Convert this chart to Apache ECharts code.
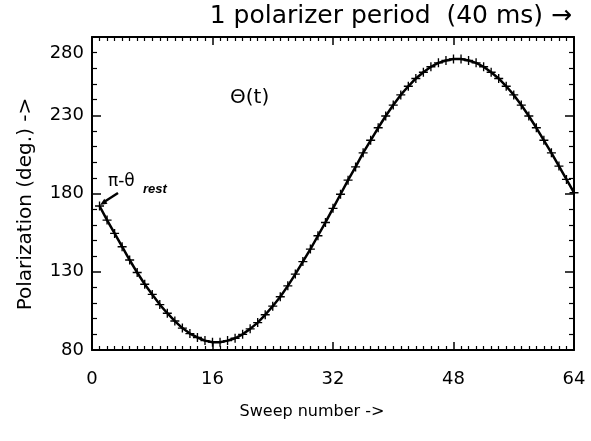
<!DOCTYPE html>
<html>
<head>
<meta charset="UTF-8">
<title>Polarization vs sweep number</title>
<style>
  html, body { margin: 0; padding: 0; background: #fff; }
  #chart { width: 591px; height: 441px; }
</style>
<script src="https://cdn.jsdelivr.net/npm/echarts@6/dist/echarts.min.js"></script>
</head>
<body>
<div id="chart"></div>
<script>
// sweep numbers (x) and polarization angle in degrees (y)
var sweeps = [1, 2, 3, 4, 5, 6, 7, 8, 9, 10, 11, 12, 13, 14, 15, 16,
  17, 18, 19, 20, 21, 22, 23, 24, 25, 26, 27, 28, 29, 30, 31, 32,
  33, 34, 35, 36, 37, 38, 39, 40, 41, 42, 43, 44, 45, 46, 47, 48,
  49, 50, 51, 52, 53, 54, 55, 56, 57, 58, 59, 60, 61, 62, 63, 64];
var polarization = [172, 163, 154.5, 146, 137.5, 129.5, 122, 115.5, 109, 103.5, 98.5, 94, 90.5, 88, 86, 85,
  85, 86, 87.5, 90, 93.5, 97.5, 102.5, 108, 114, 121, 128.5, 136.5, 144.5, 153, 161.5, 170.5,
  179.5, 188.5, 197, 206, 214, 222, 229.5, 236.5, 243, 248.5, 253.5, 257.5, 261, 263.5, 265, 266,
  266, 265, 263.5, 261, 257.5, 253.5, 248.5, 243, 236.5, 229.5, 222, 214, 206, 197.5, 189, 180.5];
var xTicks = [0, 16, 32, 48, 64];
var yTicks = [80, 130, 180, 230, 280];

var yBase = yTicks[0];   // axis runs 0..200 internally, labels shifted by the base
var points = sweeps.map(function (s, i) { return [s, polarization[i] - yBase]; });

var chart = echarts.init(document.getElementById('chart'));
var FONT = 'DejaVu Sans';
var plus = 'path://M-1,-0.15H1V0.15H-1Z M-0.15,-1H0.15V1H-0.15Z';

function xAxisOpt(pos, showLabel) {
  return {
    type: 'value', position: pos,
    min: xTicks[0], max: xTicks[xTicks.length - 1], interval: 16,
    axisLine: { show: true, onZero: false, lineStyle: { color: '#000', width: 2 } },
    axisTick: { show: true, inside: true, length: 8, lineStyle: { color: '#000', width: 1.5 } },
    minorTick: { show: true, splitNumber: 16, length: 4, lineStyle: { color: '#000', width: 1.2 } },
    splitLine: { show: false },
    axisLabel: { show: showLabel, margin: 20, color: '#000', fontFamily: FONT, fontSize: 18 }
  };
}
function yAxisOpt(pos, showLabel) {
  return {
    type: 'value', position: pos,
    min: 0, max: yTicks[yTicks.length - 1] - yBase, interval: 50,
    axisLine: { show: true, onZero: false, lineStyle: { color: '#000', width: 2 } },
    axisTick: { show: true, inside: true, length: 9, lineStyle: { color: '#000', width: 1.5 } },
    minorTick: { show: true, splitNumber: 5, length: 5, lineStyle: { color: '#000', width: 1.2 } },
    splitLine: { show: false },
    axisLabel: {
      show: showLabel, margin: 8, color: '#000', fontFamily: FONT, fontSize: 18,
      formatter: function (v) {
        var t = String(v + yBase);
        return v === 200 ? '{low|' + t + '}' : t;
      },
      rich: { low: { padding: [32, 0, 0, 0], fontFamily: FONT, fontSize: 18, color: '#000' } }
    }
  };
}

var option = {
  animation: false,
  backgroundColor: '#fff',
  grid: { left: 92, right: 17, top: 37, bottom: 91 },
  xAxis: [xAxisOpt('bottom', true), xAxisOpt('top', false)],
  yAxis: [yAxisOpt('left', true), yAxisOpt('right', false)],
  series: [{
    type: 'line',
    xAxisIndex: 0, yAxisIndex: 0,
    data: points,
    symbol: plus, symbolSize: 9,
    itemStyle: { color: '#000' },
    lineStyle: { color: '#000', width: 2.5 }
  }],
  graphic: [
    { type: 'text', x: 572, y: 16,
      style: { text: '1 polarizer period  (40 ms) \u2192', font: '25px "DejaVu Sans"', fill: '#000',
               textAlign: 'right', textVerticalAlign: 'middle' } },
    { type: 'text', x: 230, y: 98,
      style: { text: '\u0398(t)', font: '20px "DejaVu Sans"', fill: '#000',
               textAlign: 'left', textVerticalAlign: 'middle' } },
    { type: 'text', x: 108, y: 182,
      style: { text: '\u03c0-\u03b8', font: '17px "DejaVu Sans"', fill: '#000',
               textAlign: 'left', textVerticalAlign: 'middle' } },
    { type: 'text', x: 143, y: 189,
      style: { text: 'rest', font: 'italic bold 13px "Liberation Sans"', fill: '#000',
               textAlign: 'left', textVerticalAlign: 'middle' } },
    { type: 'line', shape: { x1: 118, y1: 193, x2: 104, y2: 202 },
      style: { stroke: '#000', lineWidth: 2.5 } },
    { type: 'polygon', shape: { points: [[100, 205], [107.5, 203.7], [104.3, 198.7]] },
      style: { fill: '#000' } },
    { type: 'text', x: 26, y: 204, rotation: Math.PI / 2,
      style: { text: 'Polarization (deg.) ->', font: '20px "DejaVu Sans"', fill: '#000',
               textAlign: 'center', textVerticalAlign: 'middle' } },
    { type: 'text', x: 312, y: 412,
      style: { text: 'Sweep number ->', font: '16px "DejaVu Sans"', fill: '#000',
               textAlign: 'center', textVerticalAlign: 'middle' } }
  ]
};

chart.setOption(option);
</script>
</body>
</html>
